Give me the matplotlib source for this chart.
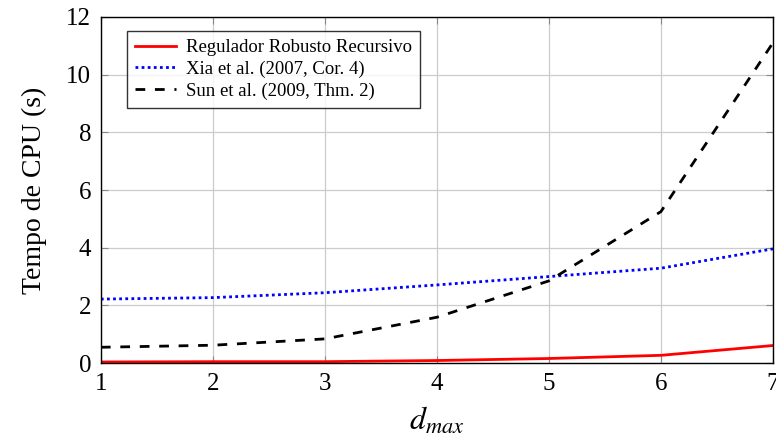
import numpy as np
import matplotlib.pyplot as plt

plt.rcParams['font.family'] = 'Liberation Serif'
plt.rcParams['mathtext.fontset'] = 'stix'

d_max = [1, 2, 3, 4, 5, 6, 7]
t_recursivo = [0.04, 0.05, 0.05, 0.09, 0.16, 0.27, 0.61]
t_xia = [2.22, 2.27, 2.44, 2.71, 3.00, 3.29, 3.96]
t_sun = [0.55, 0.62, 0.84, 1.59, 2.85, 5.25, 11.1]

fig = plt.figure(figsize=(7.76, 4.45), dpi=100)
ax = fig.add_axes([0.130, 0.184, 0.866, 0.778])

ax.plot(d_max, t_recursivo, color='red', lw=2.0, label='Regulador Robusto Recursivo')
ax.plot(d_max, t_xia, color='blue', lw=2.0, ls=(0, (1, 1.2)), label='Xia et al. (2007, Cor. 4)')
ax.plot(d_max, t_sun, color='black', lw=2.0, ls=(0, (3.5, 3.5)), label='Sun et al. (2009, Thm. 2)')

ax.set_xlim(1, 7)
ax.set_ylim(0, 12)
ax.set_xticks(d_max)
ax.set_yticks(np.arange(0, 13, 2))
ax.grid(True, color='#cccccc', lw=0.9)
ax.tick_params(direction='in', top=True, right=True, labelsize=18, length=5,
               color='#888888', pad=7)
for s in ax.spines.values():
    s.set_linewidth(1.0)

ax.set_xlabel('$d_{max}$', fontsize=23, labelpad=8)
ax.set_ylabel('Tempo de CPU (s)', fontsize=20, labelpad=14)

leg = ax.legend(loc='upper left', fontsize=13.5, frameon=True, fancybox=False,
                edgecolor='black', handlelength=2.2, handletextpad=0.55,
                borderpad=0.4, labelspacing=0.25, bbox_to_anchor=(0.025, 0.985))
leg.get_frame().set_linewidth(1.0)

fig.savefig('out.png', dpi=100)
